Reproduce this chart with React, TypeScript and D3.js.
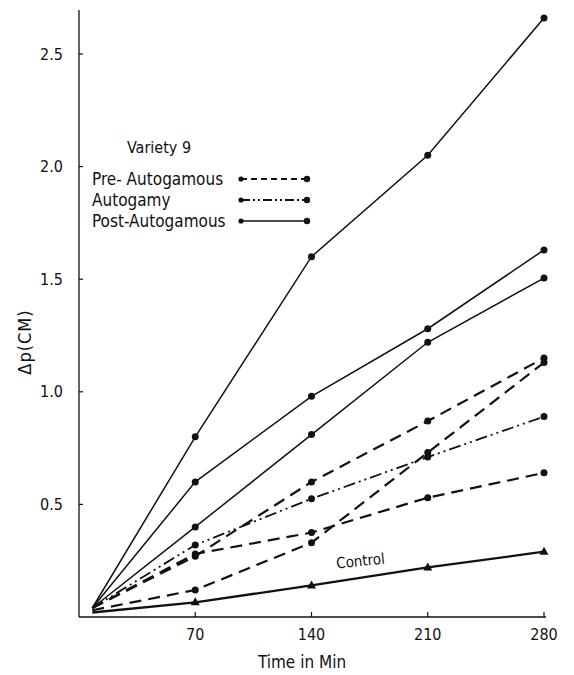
import React from "react";
import { scaleLinear, line } from "d3";

const width = 574;
const height = 675;

// time points (min); first point is where the curves leave the origin
const timePoints = [8, 70, 140, 210, 280];
const xTicks = [70, 140, 210, 280];
const yTicks = [0.5, 1.0, 1.5, 2.0, 2.5];

// Pre-Autogamous (dashed)
const preA = [0.04, 0.27, 0.6, 0.87, 1.15];
const preB = [0.04, 0.28, 0.375, 0.53, 0.64];
const preC = [0.03, 0.12, 0.33, 0.73, 1.13];
// Autogamy (dash-dot-dot)
const autogamy = [0.04, 0.32, 0.525, 0.71, 0.89];
// Post-Autogamous (solid)
const postA = [0.04, 0.8, 1.6, 2.05, 2.66];
const postB = [0.04, 0.6, 0.98, 1.28, 1.63];
const postC = [0.04, 0.4, 0.81, 1.22, 1.505];
// Control (triangles)
const control = [0.02, 0.065, 0.14, 0.22, 0.29];

const legendLabels = ["Pre- Autogamous", "Autogamy", "Post-Autogamous"];

const font = "'DejaVu Sans Condensed', 'Liberation Sans Narrow', sans-serif";
const ink = "#111";

const styles = {
	pre: { dash: "12 7", legendDash: "6 4", w: 2.2 },
	auto: { dash: "12 4 2 4 2 4", legendDash: "9 3 2 3 2 3", w: 1.8 },
	post: { dash: null, legendDash: null, w: 1.5 },
	control: { dash: null, legendDash: null, w: 2.3 },
};

const App = () => {
	const xScale = scaleLinear().domain([0, 280]).range([79, 544]);
	const yScale = scaleLinear().domain([0, 2.5]).range([617, 54]);

	const lineGen = line<number>()
		.x((d, i) => xScale(timePoints[i]))
		.y((d) => yScale(d));

	const series = [
		{ vals: preA, st: styles.pre, mark: "circle" },
		{ vals: preB, st: styles.pre, mark: "circle" },
		{ vals: preC, st: styles.pre, mark: "circle" },
		{ vals: autogamy, st: styles.auto, mark: "circle" },
		{ vals: postA, st: styles.post, mark: "circle" },
		{ vals: postB, st: styles.post, mark: "circle" },
		{ vals: postC, st: styles.post, mark: "circle" },
		{ vals: control, st: styles.control, mark: "triangle" },
	];

	const legendStyles = [styles.pre, styles.auto, styles.post];

	// angle of the "Control" label follows the control line between 140 and 210
	const cAngle =
		(Math.atan2(yScale(control[3]) - yScale(control[2]), xScale(210) - xScale(140)) * 180) /
		Math.PI;

	return (
		<svg
			width={width}
			height={height}
			style={{ position: "absolute", left: 0, top: 0, background: "#fff" }}
		>
			{/* axes */}
			<line x1={xScale(0)} x2={xScale(0)} y1={10} y2={yScale(0)} stroke={ink} strokeWidth={1.3} />
			<line x1={xScale(0)} x2={xScale(280) + 2} y1={yScale(0)} y2={yScale(0)} stroke={ink} strokeWidth={1.3} />

			{yTicks.map((t) => (
				<g key={t} transform={`translate(0,${yScale(t)})`}>
					<line x1={xScale(0)} x2={xScale(0) + 4} stroke={ink} strokeWidth={1.2} />
					<text
						x={63}
						dy=".35em"
						textAnchor="end"
						fontFamily={font}
						fontSize={16}
						fill={ink}
					>
						{t.toFixed(1)}
					</text>
				</g>
			))}

			{xTicks.map((t) => (
				<g key={t} transform={`translate(${xScale(t)},0)`}>
					<line y1={yScale(0)} y2={yScale(0) - 5} stroke={ink} strokeWidth={1.2} />
					<text
						y={640}
						textAnchor="middle"
						fontFamily={font}
						fontSize={16}
						fill={ink}
					>
						{t}
					</text>
				</g>
			))}

			<text x={302} y={668} textAnchor="middle" fontFamily={font} fontSize={17} fill={ink}>
				Time in Min
			</text>
			<text
				transform="translate(31,342) rotate(-90)"
				textAnchor="middle"
				fontFamily={font}
				fontSize={18}
				letterSpacing={1}
				fill={ink}
			>
				Δp(CM)
			</text>

			{/* data lines */}
			{series.map((s, i) => (
				<g key={i}>
					<path
						d={lineGen(s.vals) || ""}
						fill="none"
						stroke={ink}
						strokeWidth={s.st.w}
						strokeDasharray={s.st.dash || undefined}
					/>
					{s.vals.slice(1).map((v, j) =>
						s.mark === "circle" ? (
							<circle key={j} cx={xScale(timePoints[j + 1])} cy={yScale(v)} r={3.5} fill={ink} />
						) : (
							<path
								key={j}
								transform={`translate(${xScale(timePoints[j + 1])},${yScale(v)})`}
								d="M0,-5 L4.5,3 L-4.5,3 Z"
								fill={ink}
							/>
						)
					)}
				</g>
			))}

			<text
				transform={`translate(361,566) rotate(${cAngle + 3})`}
				textAnchor="middle"
				fontFamily={font}
				fontSize={15}
				fill={ink}
			>
				Control
			</text>

			{/* legend */}
			<text x={127} y={153} fontFamily={font} fontSize={16} fill={ink}>
				Variety 9
			</text>
			{legendLabels.map((lbl, i) => {
				const ly = 179 + i * 21;
				const st = legendStyles[i];
				return (
					<g key={lbl}>
						<text x={92} y={ly} dy=".35em" fontFamily={font} fontSize={17} fill={ink}>
							{lbl}
						</text>
						<line
							x1={241}
							x2={307}
							y1={ly}
							y2={ly}
							stroke={ink}
							strokeWidth={st.w}
							strokeDasharray={st.legendDash || undefined}
						/>
						<circle cx={241} cy={ly} r={2.6} fill={ink} />
						<circle cx={307} cy={ly} r={3.2} fill={ink} />
					</g>
				);
			})}
		</svg>
	);
};

export default App;
